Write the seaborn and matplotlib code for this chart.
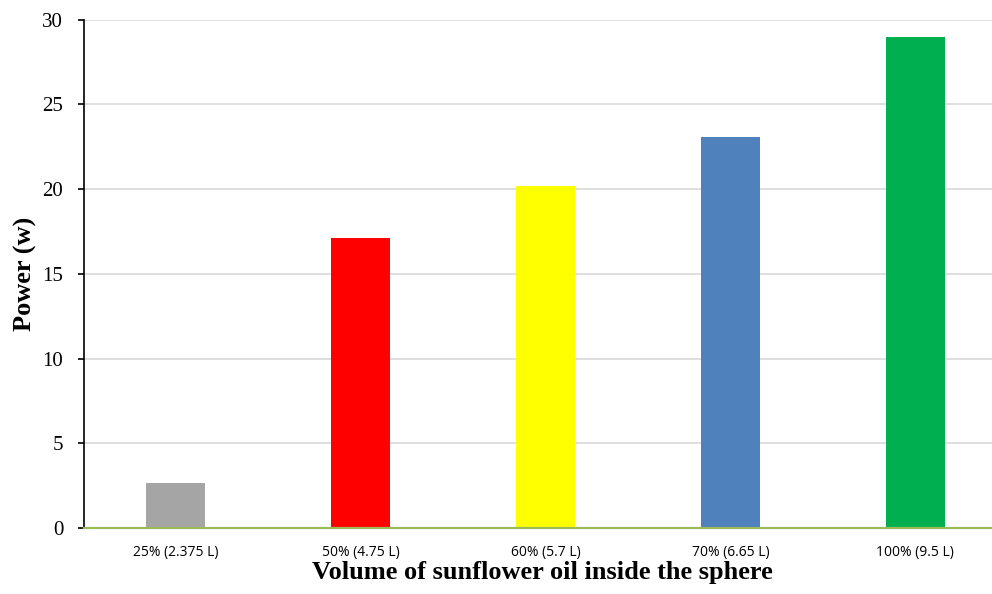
import matplotlib
matplotlib.use("Agg")
import matplotlib.pyplot as plt
import seaborn as sns
import pandas as pd

categories = ["25% (2.375 L)", "50% (4.75 L)", "60% (5.7 L)", "70% (6.65 L)", "100% (9.5 L)"]
power = [2.65, 17.1, 20.2, 23.1, 29.0]
bar_colors = ["#A5A5A5", "#FF0000", "#FFFF00", "#4F81BD", "#00B050"]
y_ticks = [0, 5, 10, 15, 20, 25, 30]

df = pd.DataFrame({"volume": categories, "power": power})

sns.set_theme(style="white")
plt.rcParams["font.family"] = ["Liberation Serif", "DejaVu Serif"]
plt.rcParams["text.color"] = "black"
plt.rcParams["xtick.color"] = "black"
plt.rcParams["ytick.color"] = "black"
plt.rcParams["axes.labelcolor"] = "black"

fig = plt.figure(figsize=(9.92, 5.94), dpi=100)
ax = fig.add_axes([0.0847, 0.111, 0.9153, 0.856])

sns.barplot(data=df, x="volume", y="power", hue="volume", palette=bar_colors,
            legend=False, width=0.32, saturation=1, linewidth=0, ax=ax, zorder=3)

ax.set_ylim(0, 30)
# the plot area runs slightly past the right edge of the figure
ax.set_xlim(-0.495, 4.414)
ax.set_yticks(y_ticks)
ax.set_yticklabels([str(t) for t in y_ticks], fontsize=15, fontfamily="Liberation Serif")
ax.set_xticks(range(len(categories)))
ax.set_xticklabels(categories, fontsize=10, fontfamily="Open Sans")

ax.yaxis.grid(True, color="#D9D9D9", linewidth=1.2, zorder=0)
ax.xaxis.grid(False)

for side in ["top", "right"]:
    ax.spines[side].set_visible(False)
ax.spines["left"].set_color("black")
ax.spines["left"].set_linewidth(1.2)
ax.spines["bottom"].set_color("#9BBB59")
ax.spines["bottom"].set_linewidth(1.6)
ax.spines["bottom"].set_zorder(4)

ax.tick_params(axis="y", which="major", left=True, length=4, width=1.2, color="black", pad=11)
ax.tick_params(axis="x", which="major", bottom=False, pad=6)

ax.set_xlabel("Volume of sunflower oil inside the sphere", fontsize=19, fontweight="bold",
              fontfamily="Liberation Serif", labelpad=3)
ax.xaxis.set_label_coords(0.505, -0.065)
ax.xaxis.label.set_verticalalignment("top")
ax.set_ylabel("Power (w)", fontsize=19, fontweight="bold", fontfamily="Liberation Serif", labelpad=4)

fig.savefig("out.png", dpi=100, facecolor="white")
